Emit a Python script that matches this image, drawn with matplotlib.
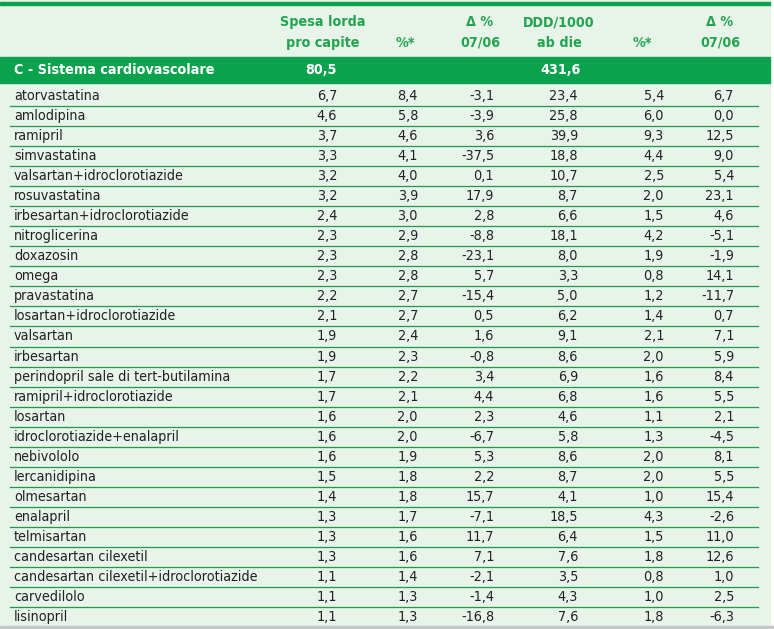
import matplotlib.pyplot as plt
from matplotlib.patches import Rectangle

farmaci = ["atorvastatina", "amlodipina", "ramipril", "simvastatina",
           "valsartan+idroclorotiazide", "rosuvastatina",
           "irbesartan+idroclorotiazide", "nitroglicerina", "doxazosin",
           "omega", "pravastatina", "losartan+idroclorotiazide", "valsartan",
           "irbesartan", "perindopril sale di tert-butilamina",
           "ramipril+idroclorotiazide", "losartan",
           "idroclorotiazide+enalapril", "nebivololo", "lercanidipina",
           "olmesartan", "enalapril", "telmisartan", "candesartan cilexetil",
           "candesartan cilexetil+idroclorotiazide", "carvedilolo",
           "lisinopril"]
spesa = ["6,7", "4,6", "3,7", "3,3", "3,2", "3,2", "2,4", "2,3", "2,3", "2,3",
         "2,2", "2,1", "1,9", "1,9", "1,7", "1,7", "1,6", "1,6", "1,6", "1,5",
         "1,4", "1,3", "1,3", "1,3", "1,1", "1,1", "1,1"]
perc_spesa = ["8,4", "5,8", "4,6", "4,1", "4,0", "3,9", "3,0", "2,9", "2,8",
              "2,8", "2,7", "2,7", "2,4", "2,3", "2,2", "2,1", "2,0", "2,0",
              "1,9", "1,8", "1,8", "1,7", "1,6", "1,6", "1,4", "1,3", "1,3"]
delta_spesa = ["-3,1", "-3,9", "3,6", "-37,5", "0,1", "17,9", "2,8", "-8,8",
               "-23,1", "5,7", "-15,4", "0,5", "1,6", "-0,8", "3,4", "4,4",
               "2,3", "-6,7", "5,3", "2,2", "15,7", "-7,1", "11,7", "7,1",
               "-2,1", "-1,4", "-16,8"]
ddd = ["23,4", "25,8", "39,9", "18,8", "10,7", "8,7", "6,6", "18,1", "8,0",
       "3,3", "5,0", "6,2", "9,1", "8,6", "6,9", "6,8", "4,6", "5,8", "8,6",
       "8,7", "4,1", "18,5", "6,4", "7,6", "3,5", "4,3", "7,6"]
perc_ddd = ["5,4", "6,0", "9,3", "4,4", "2,5", "2,0", "1,5", "4,2", "1,9",
            "0,8", "1,2", "1,4", "2,1", "2,0", "1,6", "1,6", "1,1", "1,3",
            "2,0", "2,0", "1,0", "4,3", "1,5", "1,8", "0,8", "1,0", "1,8"]
delta_ddd = ["6,7", "0,0", "12,5", "9,0", "5,4", "23,1", "4,6", "-5,1", "-1,9",
             "14,1", "-11,7", "0,7", "7,1", "5,9", "8,4", "5,5", "2,1", "-4,5",
             "8,1", "5,5", "15,4", "-2,6", "11,0", "12,6", "1,0", "2,5", "-6,3"]

intest = [("Spesa lorda", "pro capite"), ("", "%*"), ("\u0394 %", "07/06"),
          ("DDD/1000", "ab die"), ("", "%*"), ("\u0394 %", "07/06")]
gruppo = "C - Sistema cardiovascolare"
gruppo_spesa = "80,5"
gruppo_ddd = "431,6"

W, H = 774, 629
bg = "#e8f3ea"
verde = "#0ba24d"
verde_testo = "#22a54f"
nero = "#222222"
font = dict(family="DejaVu Sans", stretch="condensed", size=10.3)

fig = plt.figure(figsize=(W / 100, H / 100), dpi=100)
fig.patch.set_facecolor("white")
ax = fig.add_axes([0, 0, 1, 1])
ax.set_xlim(0, W)
ax.set_ylim(H, 0)
ax.axis("off")

# sfondo, filetto superiore e banda del gruppo
ax.add_patch(Rectangle((0, 0), 770, 626, color=bg, zorder=0))
ax.add_patch(Rectangle((0, 2), 770, 3, color=verde, zorder=1))
ax.add_patch(Rectangle((0, 57), 770, 26, color=verde, zorder=1))
ax.add_patch(Rectangle((0, 626), W, 3, color="#c8c8c8", zorder=1))

centri_int = [323, 405, 480, 559, 642, 720]
for cx, (r1, r2) in zip(centri_int, intest):
    if r1:
        ax.text(cx, 22, r1, ha="center", va="center", color=verde_testo,
                fontweight="bold", **font)
    ax.text(cx, 43, r2, ha="center", va="center", color=verde_testo,
            fontweight="bold", **font)

ax.text(14, 70, gruppo, ha="left", va="center", color="white",
        fontweight="bold", **font)
ax.text(337, 70, gruppo_spesa, ha="right", va="center", color="white",
        fontweight="bold", **font)
ax.text(581, 70, gruppo_ddd, ha="right", va="center", color="white",
        fontweight="bold", **font)

colonne = [spesa, perc_spesa, delta_spesa, ddd, perc_ddd, delta_ddd]
destre = [337, 418, 494, 578, 664, 734]
y0, dy = 96, 20.04
for i, nome in enumerate(farmaci):
    y = y0 + i * dy
    ax.text(14, y, nome, ha="left", va="center", color=nero, **font)
    for xr, col in zip(destre, colonne):
        ax.text(xr, y, col[i], ha="right", va="center", color=nero, **font)
    if i < len(farmaci) - 1:
        ax.plot([10, 758], [y + dy / 2, y + dy / 2], color="#1f9a4a", lw=0.9)

fig.savefig("out.png", dpi=100, facecolor=fig.get_facecolor())
